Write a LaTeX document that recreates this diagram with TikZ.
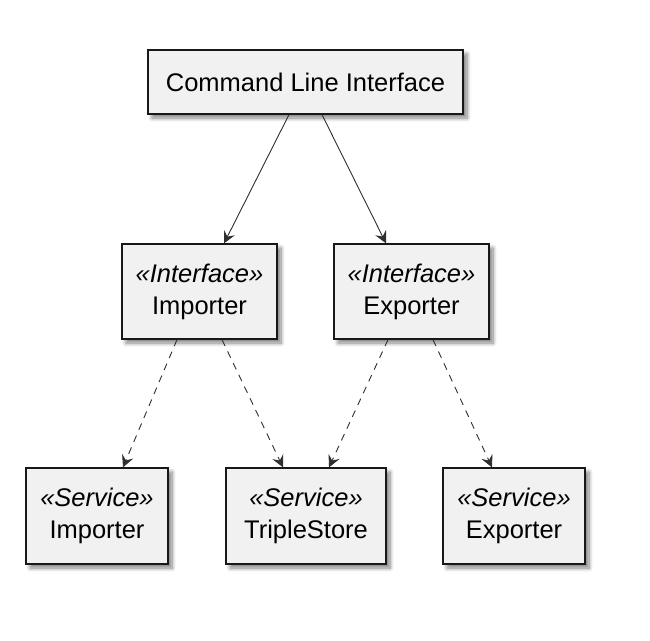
\documentclass[tikz,border=0pt]{standalone}
\usepackage{fontspec}
\setmainfont{Liberation Sans}
\usetikzlibrary{arrows.meta,calc,shadows.blur}
\definecolor{boxfill}{HTML}{F1F1F1}
\definecolor{boxline}{HTML}{181818}
\tikzset{
  umlbox/.style={draw=boxline, fill=boxfill, line width=1.3pt, inner sep=0pt,
    align=center, font=\fontsize{25.5}{32}\selectfont,
    blur shadow={shadow xshift=4pt, shadow yshift=-4pt, shadow blur steps=8, shadow blur radius=4pt, shadow opacity=50}},
  solidarrow/.style={draw=boxline!90, line width=0.9pt, -{Stealth[length=12pt,width=12pt,inset=4.5pt]}},
  dasharrow/.style={solidarrow, dash pattern=on 7pt off 6pt},
}
\begin{document}
\begin{tikzpicture}[x=1pt,y=-1pt]
\useasboundingbox (0,0) rectangle (650,640);
\node[umlbox, minimum width=315pt, minimum height=64pt] (cli) at (305.5,82) {Command Line Interface};
\node[umlbox, minimum width=155pt, minimum height=95pt] (iimp) at (199.5,291.5) {\textit{«Interface»}\\Importer};
\node[umlbox, minimum width=155pt, minimum height=95pt] (iexp) at (411.5,291.5) {\textit{«Interface»}\\Exporter};
\node[umlbox, minimum width=142pt, minimum height=96pt] (simp) at (97,516) {\textit{«Service»}\\Importer};
\node[umlbox, minimum width=160pt, minimum height=96pt] (ts) at (306,516) {\textit{«Service»}\\TripleStore};
\node[umlbox, minimum width=142pt, minimum height=96pt] (sexp) at (514,516) {\textit{«Service»}\\Exporter};
\draw[solidarrow] ($(cli.south)+(-16.5,0)$) -- ($(iimp.north)+(24.5,0)$);
\draw[solidarrow] ($(cli.south)+(16.5,0)$) -- ($(iexp.north)+(-25.5,0)$);
\draw[dasharrow] ($(iimp.south)+(-22.5,0)$) -- ($(simp.north)+(26,0)$);
\draw[dasharrow] ($(iimp.south)+(22.5,0)$) -- ($(ts.north)+(-23,0)$);
\draw[dasharrow] ($(iexp.south)+(-23.5,0)$) -- ($(ts.north)+(23,0)$);
\draw[dasharrow] ($(iexp.south)+(21.5,0)$) -- ($(sexp.north)+(-22,0)$);
\end{tikzpicture}
\end{document}
